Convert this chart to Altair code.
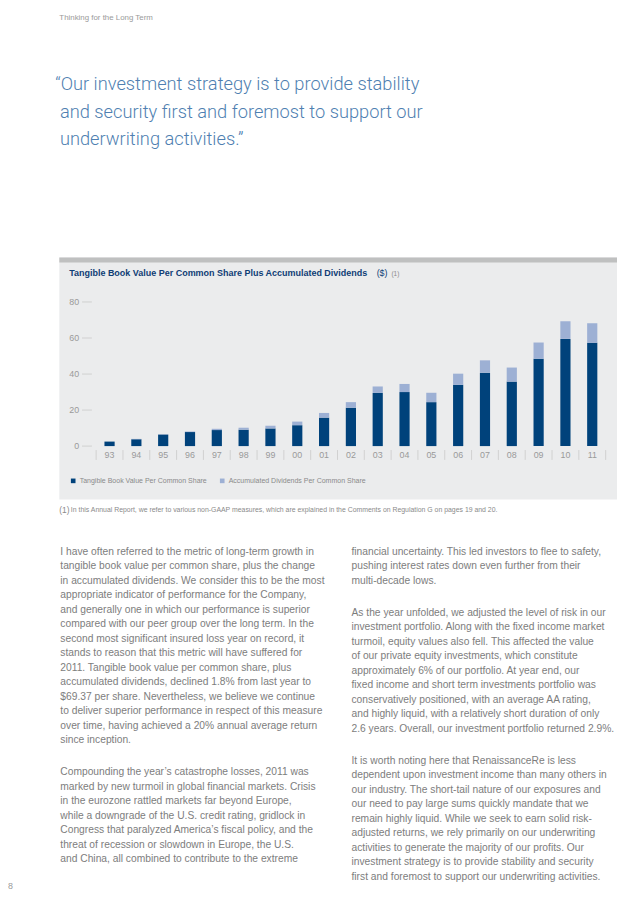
import altair as alt
import pandas as pd

# ---------------- data ----------------
years = ["93", "94", "95", "96", "97", "98", "99", "00", "01", "02",
         "03", "04", "05", "06", "07", "08", "09", "10", "11"]
tangible_bv = [2.5, 3.8, 6.4, 7.8, 8.9, 9.1, 9.8, 11.6, 15.8, 21.3,
               29.5, 30.0, 24.4, 34.0, 40.7, 35.8, 48.5, 59.5, 57.3]
accum_div = [0.0, 0.2, 0.1, 0.3, 0.7, 1.1, 1.5, 2.0, 2.6, 3.1,
             3.6, 4.5, 5.2, 6.2, 6.9, 7.8, 9.0, 9.8, 10.9]
series_names = ["Tangible Book Value Per Common Share",
                "Accumulated Dividends Per Common Share"]
y_ticks = [0, 20, 40, 60, 80]

header = "Thinking for the Long Term"
quote_first = "\u201cOur investment strategy is to provide stability"
quote_rest = ["and security first and foremost to support our",
              "underwriting activities.\u201d"]
chart_title = "Tangible Book Value Per Common Share Plus Accumulated Dividends"
title_unit = "($)"
title_note = "(1)"
footnote_mark = "(1)"
footnote = ("In this Annual Report, we refer to various non-GAAP measures, which are "
            "explained in the Comments on Regulation G on pages 19 and 20.")
left_p1 = [
    "I have often referred to the metric of long-term growth in",
    "tangible book value per common share, plus the change",
    "in accumulated dividends. We consider this to be the most",
    "appropriate indicator of performance for the Company,",
    "and generally one in which our performance is superior",
    "compared with our peer group over the long term. In the",
    "second most significant insured loss year on record, it",
    "stands to reason that this metric will have suffered for",
    "2011. Tangible book value per common share, plus",
    "accumulated dividends, declined 1.8% from last year to",
    "$69.37 per share. Nevertheless, we believe we continue",
    "to deliver superior performance in respect of this measure",
    "over time, having achieved a 20% annual average return",
    "since inception.",
]
left_p2 = [
    "Compounding the year\u2019s catastrophe losses, 2011 was",
    "marked by new turmoil in global financial markets. Crisis",
    "in the eurozone rattled markets far beyond Europe,",
    "while a downgrade of the U.S. credit rating, gridlock in",
    "Congress that paralyzed America\u2019s fiscal policy, and the",
    "threat of recession or slowdown in Europe, the U.S.",
    "and China, all combined to contribute to the extreme",
]
right_p1 = [
    "financial uncertainty. This led investors to flee to safety,",
    "pushing interest rates down even further from their",
    "multi-decade lows.",
]
right_p2 = [
    "As the year unfolded, we adjusted the level of risk in our",
    "investment portfolio. Along with the fixed income market",
    "turmoil, equity values also fell. This affected the value",
    "of our private equity investments, which constitute",
    "approximately 6% of our portfolio. At year end, our",
    "fixed income and short term investments portfolio was",
    "conservatively positioned, with an average AA rating,",
    "and highly liquid, with a relatively short duration of only",
    "2.6 years. Overall, our investment portfolio returned 2.9%.",
]
right_p3 = [
    "It is worth noting here that RenaissanceRe is less",
    "dependent upon investment income than many others in",
    "our industry. The short-tail nature of our exposures and",
    "our need to pay large sums quickly mandate that we",
    "remain highly liquid. While we seek to earn solid risk-",
    "adjusted returns, we rely primarily on our underwriting",
    "activities to generate the majority of our profits. Our",
    "investment strategy is to provide stability and security",
    "first and foremost to support our underwriting activities.",
]
page_number = "8"

# ---------------- styles / layout ----------------
W, H = 617, 890
FONT = "Liberation Sans"
DARK = "#00427b"
LIGHT = "#9db0d4"
NAVY = "#0f3d75"
BODY = "#7d7d7d"
AXIS_TXT = "#9a9a9a"
TICK = "#d0d0d0"
BODY_LH = 14.69
BODY_SIZE = 10.4
X_RANGE = [89.3, 605.5]
HALF_STEP = (X_RANGE[1] - X_RANGE[0]) / len(years) / 2.0

rows = []
for i, yr in enumerate(years):
    rows.append({"year": yr, "series": series_names[0], "value": tangible_bv[i], "ord": 0})
    rows.append({"year": yr, "series": series_names[1], "value": accum_div[i], "ord": 1})
bars_df = pd.DataFrame(rows)
years_df = pd.DataFrame({"year": years})
last_df = pd.DataFrame({"year": years[-1:]})
yt_df = pd.DataFrame({"value": y_ticks})
one = pd.DataFrame({"k": [0]})


def xscale():
    return alt.Scale(domain=years, range=X_RANGE, paddingInner=0.62, paddingOuter=0.31)


def yscale():
    return alt.Scale(domain=[0, 80], range=[438, 292], nice=False, zero=True)


def text_block(lines, x, y_first, size, color, lh=BODY_LH, weight="normal", font=FONT,
               baseline="middle"):
    txt = lines if (isinstance(lines, list) and len(lines) > 1) else (
        lines[0] if isinstance(lines, list) else lines)
    return alt.Chart(one).mark_text(
        text=txt, align="left", baseline=baseline, fontSize=size, font=font,
        color=color, fontWeight=weight, lineHeight=lh
    ).encode(x=alt.value(x), y=alt.value(y_first))


panel = alt.Chart(one).mark_rect(color="#ebeced").encode(
    x=alt.value(52), x2=alt.value(617), y=alt.value(247), y2=alt.value(492))
panel_band = alt.Chart(one).mark_rect(color="#bfc0c0").encode(
    x=alt.value(52), x2=alt.value(617), y=alt.value(247), y2=alt.value(252))

bars = alt.Chart(bars_df).mark_bar().encode(
    x=alt.X("year:N", sort=years, scale=xscale(), axis=None),
    y=alt.Y("value:Q", stack="zero", scale=yscale(), axis=None),
    color=alt.Color("series:N",
                    scale=alt.Scale(domain=series_names, range=[DARK, LIGHT]),
                    legend=alt.Legend(title=None, orient="none", legendX=62.5,
                                      legendY=469.5, direction="horizontal",
                                      symbolType="square", symbolSize=22,
                                      symbolStrokeWidth=0, labelFontSize=7.1,
                                      labelFont=FONT, labelColor="#8a8a8a",
                                      labelOffset=3, columnPadding=12, padding=0)),
    order=alt.Order("ord:Q"),
)

# x axis: labels and band separators
x_labels = alt.Chart(years_df).mark_text(
    fontSize=9, font=FONT, color=AXIS_TXT, align="center", baseline="middle"
).encode(x=alt.X("year:N", sort=years, scale=xscale(), axis=None), y=alt.value(447),
         text="year:N")
x_seps = alt.Chart(years_df).mark_rule(color=TICK, xOffset=-HALF_STEP).encode(
    x=alt.X("year:N", sort=years, scale=xscale(), axis=None),
    y=alt.value(442), y2=alt.value(452))
x_sep_last = alt.Chart(last_df).mark_rule(color=TICK, xOffset=HALF_STEP).encode(
    x=alt.X("year:N", sort=years, scale=xscale(), axis=None),
    y=alt.value(442), y2=alt.value(452))

# y axis: labels and ticks
y_labels = alt.Chart(yt_df).mark_text(
    fontSize=9, font=FONT, color=AXIS_TXT, align="right", baseline="middle"
).encode(y=alt.Y("value:Q", scale=yscale(), axis=None), x=alt.value(72),
         text="value:Q")
y_tickmarks = alt.Chart(yt_df).mark_rule(color=TICK).encode(
    y=alt.Y("value:Q", scale=yscale(), axis=None), x=alt.value(75), x2=alt.value(85))

layers = [
    panel, panel_band, bars, x_seps, x_sep_last, x_labels, y_tickmarks, y_labels,
    text_block(header, 52, 0, 8, "#9a9a9a", baseline="top"),
    text_block(quote_first, 47.8, 71.5, 18.5, "#4f7fb1", weight=300, font="Roboto"),
    text_block(quote_rest, 52.6, 99.4, 18.5, "#4f7fb1", lh=27.9, weight=300, font="Roboto"),
    text_block(chart_title, 62, 263, 9.1, NAVY, weight="bold"),
    text_block(title_unit, 373.5, 263, 9.0, NAVY),
    text_block(title_note, 388.5, 263.5, 6.5, "#8a8a8a"),
    text_block(footnote_mark, 52, 503, 8.5, "#8a8a8a"),
    text_block(footnote, 63.7, 503, 7.0, "#8a8a8a"),
    text_block(left_p1, 53, 545.3, BODY_SIZE, BODY),
    text_block(left_p2, 53, 768.7, BODY_SIZE, BODY),
    text_block(right_p1, 348, 545.3, BODY_SIZE, BODY),
    text_block(right_p2, 348, 607, BODY_SIZE, BODY),
    text_block(right_p3, 348, 757, BODY_SIZE, BODY),
    text_block(page_number, 0, 884, 9, "#9a9a9a"),
]

chart = alt.layer(*layers).properties(
    width=W, height=H, padding=0,
    autosize=alt.AutoSizeParams(type="none"),
    background="white",
).configure_view(stroke=None)

chart.save("out.html", embed_options={"renderer": "svg", "actions": False})
